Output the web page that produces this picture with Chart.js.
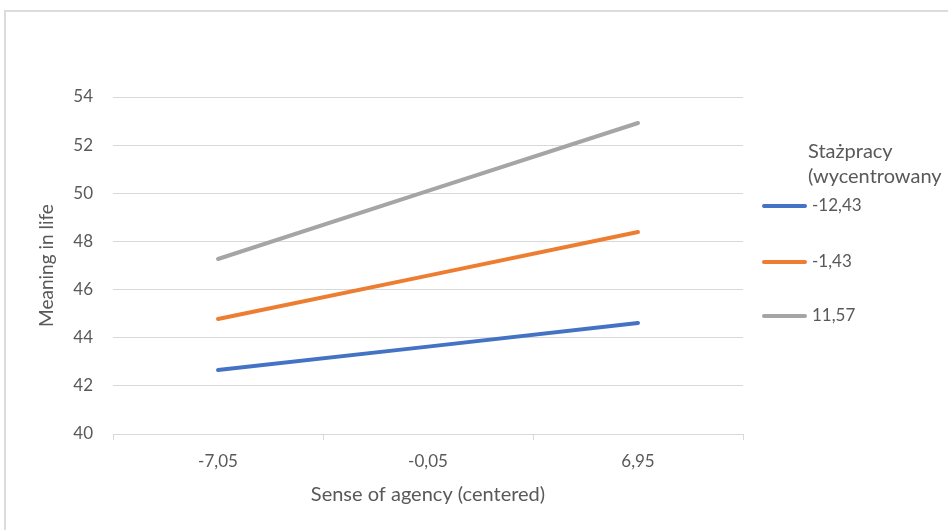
<!DOCTYPE html>
<html>
<head>
<meta charset="utf-8">
<script src="https://cdn.jsdelivr.net/npm/chart.js@4.4.1/dist/chart.umd.min.js"></script>
<style>
  body { margin: 0; background: #fff; overflow: hidden; }
  #frame { position: absolute; left: 4px; top: 10px; width: 1100px; height: 700px; border: 2px solid #dcdcdc; }
  #myChart { position: absolute; left: 0; top: 0; }
</style>
</head>
<body>
<div id="frame"></div>
<canvas id="myChart" width="948" height="530"></canvas>
<script>
const categorias = ['-7,05', '-0,05', '6,95'];
const legendaTitulo = ['Stażpracy', '(wycentrowany'];
const rotulosSeries = ['-12,43', '-1,43', '11,57'];
const serieAzul = [42.66, 43.63, 44.61];
const serieLaranja = [44.78, 46.58, 48.39];
const serieCinza = [47.27, 50.1, 52.92];
const yMin = 40, yMax = 54, yPasso = 2;

const cores = ['#4472C4', '#ED7D31', '#A5A5A5'];
const corTexto = '#595959';
const fonte = 'Lato, "Open Sans", sans-serif';

function serie(label, data, cor) {
  return {
    label: label,
    data: data,
    borderColor: cor,
    backgroundColor: cor,
    borderWidth: 4,
    borderCapStyle: 'round',
    pointRadius: 0,
    pointHoverRadius: 0,
    tension: 0,
    fill: false
  };
}

// legenda desenhada a mao, parecida com a do Excel
const legendaExcel = {
  id: 'legendaExcel',
  afterDraw(chart) {
    const ctx = chart.ctx;
    ctx.save();
    ctx.fillStyle = corTexto;
    ctx.textBaseline = 'middle';
    ctx.textAlign = 'left';
    ctx.font = '20px ' + fonte;
    ctx.fillText(legendaTitulo[0], 808, 152);
    ctx.fillText(legendaTitulo[1], 808, 177);
    ctx.font = '17px ' + fonte;
    const ys = [206, 262, 316];
    chart.data.datasets.forEach((ds, i) => {
      ctx.strokeStyle = ds.borderColor;
      ctx.lineWidth = 4;
      ctx.lineCap = 'round';
      ctx.beginPath();
      ctx.moveTo(764, ys[i]);
      ctx.lineTo(805, ys[i]);
      ctx.stroke();
      ctx.fillText(ds.label, 812, ys[i]);
    });
    ctx.restore();
  }
};

const config = {
  type: 'line',
  data: {
    labels: categorias,
    datasets: [
      serie(rotulosSeries[0], serieAzul, cores[0]),
      serie(rotulosSeries[1], serieLaranja, cores[1]),
      serie(rotulosSeries[2], serieCinza, cores[2])
    ]
  },
  options: {
    responsive: false,
    animation: false,
    devicePixelRatio: 1,
    layout: { padding: { left: 0, top: 97, right: 205, bottom: 0 } },
    scales: {
      x: {
        offset: true,
        grid: {
          offset: true,
          drawOnChartArea: false,
          drawTicks: true,
          tickLength: 6,
          color: '#d9d9d9'
        },
        border: { display: true, color: '#d9d9d9' },
        ticks: { color: corTexto, font: { family: fonte, size: 17 }, padding: 11, maxRotation: 0 },
        title: {
          display: true,
          text: 'Sense of agency (centered)',
          color: corTexto,
          font: { family: fonte, size: 20 },
          padding: { top: 4, bottom: 23 }
        },
        afterFit(scale) { scale.height = 96; }
      },
      y: {
        min: yMin,
        max: yMax,
        grid: { color: '#d9d9d9', drawTicks: false },
        border: { display: false },
        ticks: { stepSize: yPasso, color: corTexto, font: { family: fonte, size: 17 }, padding: 20 },
        title: {
          display: true,
          text: 'Meaning in life',
          color: corTexto,
          font: { family: fonte, size: 19 },
          padding: { top: 35, bottom: 4 }
        },
        afterFit(scale) { scale.width = 113; }
      }
    },
    plugins: {
      legend: { display: false },
      tooltip: { enabled: false }
    }
  },
  plugins: [legendaExcel]
};

window.onload = function() {
  const ctx = document.getElementById('myChart').getContext('2d');
  new Chart(ctx, config);
};
</script>
</body>
</html>
